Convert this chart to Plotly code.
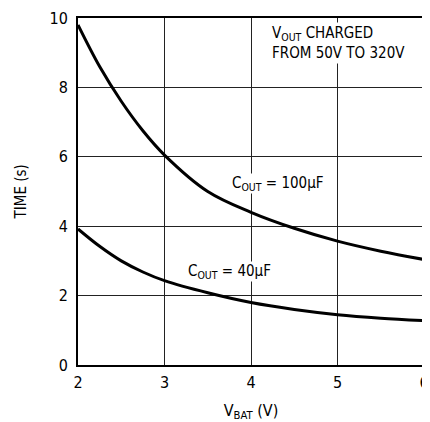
import plotly.graph_objects as go

# values
vbat_100 = [2.0, 2.25, 2.5, 2.75, 3.0, 3.5, 4.0, 4.5, 5.0, 5.5, 6.0]
time_100 = [9.8, 8.6, 7.6, 6.75, 6.05, 5.0, 4.4, 3.94, 3.57, 3.28, 3.04]

vbat_40 = [2.0, 2.25, 2.5, 2.75, 3.0, 3.5, 4.0, 4.5, 5.0, 5.5, 6.0]
time_40 = [3.92, 3.42, 3.0, 2.68, 2.43, 2.08, 1.8, 1.6, 1.45, 1.35, 1.28]

x_ticks = [2, 3, 4, 5, 6]
y_ticks = [0, 2, 4, 6, 8, 10]

FONT = "DejaVu Sans Condensed, Liberation Sans Narrow, Roboto, sans-serif"

fig = go.Figure()
fig.add_trace(go.Scatter(x=vbat_100, y=time_100, mode="lines",
                         line=dict(color="black", width=3, shape="spline"),
                         showlegend=False))
fig.add_trace(go.Scatter(x=vbat_40, y=time_40, mode="lines",
                         line=dict(color="black", width=3, shape="spline"),
                         showlegend=False))

fig.add_annotation(x=4.22, y=9.88, xref="x", yref="y", xanchor="left", yanchor="top",
                   text="V<sub>OUT</sub> CHARGED<br>FROM 50V TO 320V", align="left",
                   showarrow=False, bgcolor="white", font=dict(size=15))
fig.add_annotation(x=4.31, y=5.23, xref="x", yref="y",
                   text="C<sub>OUT</sub> = 100μF", showarrow=False,
                   bgcolor="white", borderpad=0, font=dict(size=15))
fig.add_annotation(x=3.75, y=2.70, xref="x", yref="y",
                   text="C<sub>OUT</sub> = 40μF", showarrow=False,
                   bgcolor="white", borderpad=0, font=dict(size=15))
# y axis title as rotated text so it can sit where the reference has it
fig.add_annotation(x=-0.165, y=0.5, xref="paper", yref="paper", textangle=-90,
                   xanchor="center", yanchor="middle",
                   text="TIME (s)", showarrow=False, font=dict(size=15))

# page body adds an 8px offset, so the figure is sized a bit smaller
fig.update_layout(
    width=422, height=414,
    margin=dict(l=70, r=1, t=5, b=57),
    paper_bgcolor="white", plot_bgcolor="white",
    font=dict(family=FONT, size=16, color="black"),
)
fig.update_xaxes(range=[2, 6], tickvals=x_ticks, showgrid=True, gridcolor="#222", gridwidth=1,
                 zeroline=False, showline=True, linecolor="black", linewidth=2, mirror=True,
                 ticks="", ticklabelstandoff=2, ticklabeloverflow="allow",
                 title=dict(text="V<sub>BAT</sub> (V)", standoff=15, font=dict(size=16)))
fig.update_yaxes(range=[0, 10], tickvals=y_ticks, showgrid=True, gridcolor="#222", gridwidth=1,
                 zeroline=False, showline=True, linecolor="black", linewidth=2, mirror=True,
                 ticks="", ticklabelstandoff=5, ticklabeloverflow="allow")

fig.write_html("out.html")
